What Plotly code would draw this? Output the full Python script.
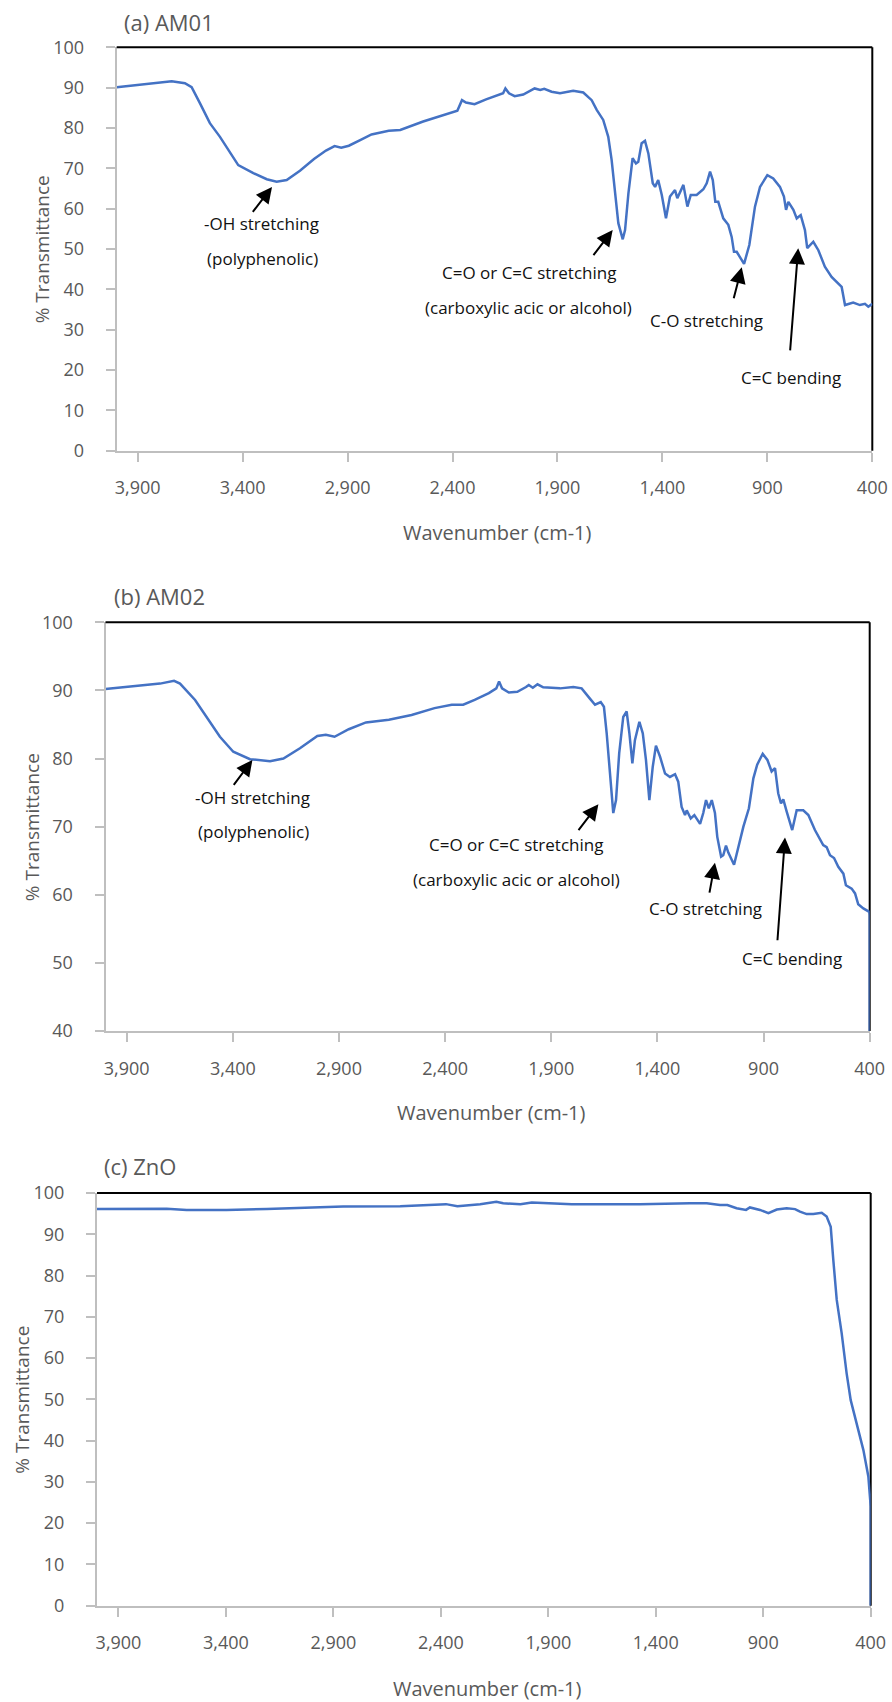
import plotly.graph_objects as go

# ---------------- data ----------------
wn_am01 = [4000, 3857, 3778, 3738, 3675, 3643, 3603, 3556, 3508, 3460, 3421, 3349, 3285, 3238, 3190,
           3127, 3060, 3003, 2962, 2930, 2894, 2840, 2786, 2704, 2649, 2540, 2404, 2377, 2355, 2336,
           2295, 2240, 2159, 2148, 2131, 2104, 2063, 2009, 1982, 1963, 1928, 1888, 1825, 1777, 1737,
           1713, 1682, 1658, 1642, 1626, 1610, 1589, 1578, 1562, 1542, 1526, 1515, 1499, 1483, 1467,
           1446, 1435, 1420, 1403, 1383, 1364, 1340, 1329, 1300, 1281, 1265, 1237, 1205, 1189, 1173,
           1160, 1148, 1134, 1110, 1086, 1070, 1059, 1046, 1011, 986, 959, 935, 900, 872, 840, 821,
           811, 800, 776, 760, 741, 721, 710, 697, 681, 657, 626, 594, 570, 546, 530, 491, 459, 435,
           419, 400]
t_am01 = [90.1, 90.9, 91.2, 91.6, 91.1, 90.1, 86.1, 81.2, 77.8, 74.1, 70.8, 68.8, 67.3, 66.7, 67.1,
          69.4, 72.3, 74.4, 75.5, 75.1, 75.6, 77.0, 78.4, 79.3, 79.5, 81.6, 84.0, 84.3, 86.9, 86.3,
          85.9, 87.1, 88.6, 89.8, 88.6, 87.9, 88.3, 89.8, 89.4, 89.7, 89.0, 88.6, 89.2, 88.8, 86.9,
          84.5, 82.0, 77.8, 72.1, 64.6, 56.4, 52.4, 54.7, 63.8, 72.5, 71.2, 71.6, 76.2, 76.8, 73.7,
          66.3, 65.4, 67.1, 63.4, 57.6, 63.0, 64.6, 62.6, 65.9, 60.5, 63.4, 63.4, 64.8, 66.3, 69.2,
          67.1, 61.7, 61.7, 57.6, 56.0, 53.0, 49.3, 49.3, 46.3, 51.0, 60.5, 65.4, 68.3, 67.5, 65.4, 63.0,
          59.7, 61.7, 59.7, 57.6, 58.4, 54.7, 50.2, 51.0, 51.8, 49.7, 45.6, 43.1, 41.9, 40.6, 36.1, 36.7,
          36.1, 36.4, 35.7, 36.4]

wn_am02 = [4000, 3837, 3743, 3677, 3649, 3578, 3523, 3461, 3398, 3319, 3225, 3162, 3084, 3002, 2962,
           2921, 2854, 2773, 2665, 2558, 2450, 2369, 2315, 2261, 2194, 2159, 2146, 2132, 2100, 2060,
           2019, 2006, 1987, 1965, 1938, 1859, 1796, 1757, 1718, 1694, 1667, 1652, 1639, 1623, 1608,
           1595, 1580, 1561, 1545, 1532, 1518, 1506, 1485, 1469, 1454, 1438, 1422, 1407, 1388, 1364,
           1341, 1317, 1302, 1286, 1270, 1262, 1243, 1226, 1199, 1184, 1171, 1158, 1144, 1129, 1118,
           1100, 1090, 1077, 1066, 1039, 1019, 995, 969, 948, 930, 904, 882, 862, 846, 831, 818, 807,
           791, 765, 744, 713, 689, 658, 619, 603, 587, 568, 548, 524, 512, 485, 469, 454, 430, 402,
           400, 400]
t_am02 = [90.2, 90.65, 91.0, 91.4, 91.0, 88.6, 86.1, 83.2, 81.0, 79.9, 79.6, 80.0, 81.5, 83.3, 83.5,
          83.2, 84.3, 85.3, 85.7, 86.4, 87.4, 87.9, 87.9, 88.6, 89.6, 90.3, 91.3, 90.3, 89.7, 89.8,
          90.5, 90.8, 90.4, 90.9, 90.45, 90.3, 90.5, 90.3, 88.8, 87.9, 88.3, 87.6, 83.7, 77.3, 72.0,
          73.9, 80.8, 86.1, 86.9, 83.7, 79.3, 82.7, 85.4, 83.7, 79.8, 73.9, 78.8, 81.9, 80.3, 77.8,
          77.3, 77.7, 76.6, 72.9, 71.7, 72.4, 71.2, 71.7, 70.4, 72.0, 73.9, 72.7, 73.9, 72.0, 68.5,
          65.6, 65.8, 67.2, 66.2, 64.4, 67.1, 70.0, 72.7, 77.1, 79.1, 80.7, 79.8, 78.1, 78.6, 74.9, 73.4, 74.0,
          72.2, 69.5, 72.4, 72.4, 71.7, 69.5, 67.3, 67.0, 65.8, 65.4, 64.1, 63.1, 61.4, 60.9, 60.2, 58.6, 58.0, 57.5,
          57.0, 0.0]

wn_zno = [4000, 3862, 3676, 3583, 3474, 3397, 3210, 3055, 2855, 2589, 2376, 2323, 2217, 2142, 2110,
          2030, 1977, 1924, 1791, 1525, 1473, 1241, 1163, 1101, 1067, 1024, 980, 962, 915, 876, 837,
          791, 752, 729, 698, 667, 628, 605, 586, 574, 558, 535, 512, 493, 465, 434, 411, 400, 400]
t_zno = [96.1, 96.2, 96.2, 95.9, 95.8, 95.9, 96.1, 96.4, 96.7, 96.8, 97.3, 96.8, 97.3, 97.9, 97.5,
         97.3, 97.7, 97.6, 97.3, 97.3, 97.3, 97.5, 97.5, 97.1, 97.1, 96.3, 95.9, 96.5, 95.9, 95.1, 96.0,
         96.3, 96.1, 95.5, 94.9, 94.9, 95.2, 94.3, 91.8, 83.8, 74.1, 66.0, 56.3, 49.8, 44.2, 37.7, 31.3,
         24.0, 0.0]

x_tick_vals = [3900, 3400, 2900, 2400, 1900, 1400, 900, 400]
panel_titles = ["(a) AM01", "(b) AM02", "(c) ZnO"]
y_ranges = [[0, 100], [40, 100], [0, 100]]
x_title = "Wavenumber (cm-1)"
y_title = "% Transmittance"

# ---------------- layout constants ----------------
W, H = 892, 1702
FONT = "Open Sans"
GRAY = "#595959"
AXGRAY = "#BFBFBF"
BLUE = "#4472C4"

# plot area pixel boxes: left, right, top, bottom
boxes = [(116.7, 872.3, 47.3, 450.7), (105.5, 869.7, 622.3, 1031.0), (97.0, 870.7, 1193.0, 1605.7)]
title_pos = [(121.7, 22.0), (111.7, 596.0), (101.8, 1166.0)]
ytitle_pos = [(42.3, 249.0), (31.7, 827.5), (21.7, 1400.0)]
xtitle_pos = [(497.5, 532.0), (491.0, 1112.0), (487.4, 1688.0)]

def px(x):
    return x / W

def py(y):
    return 1 - y / H

fig = go.Figure()
series = [(wn_am01, t_am01), (wn_am02, t_am02), (wn_zno, t_zno)]
for i, (xs, ys) in enumerate(series):
    sfx = "" if i == 0 else str(i + 1)
    fig.add_trace(go.Scatter(x=xs, y=ys, mode="lines", line=dict(color=BLUE, width=2.5),
                             xaxis="x" + sfx, yaxis="y" + sfx, showlegend=False, hoverinfo="skip"))

layout = dict(width=W, height=H, margin=dict(l=0, r=0, t=0, b=0),
              paper_bgcolor="white", plot_bgcolor="white", showlegend=False,
              font=dict(family=FONT, color=GRAY))
shapes = []
annotations = []
for i, (l, r, t, b) in enumerate(boxes):
    sfx = "" if i == 0 else str(i + 1)
    layout["xaxis" + sfx] = dict(
        domain=[px(l), px(r)], anchor="y" + sfx, range=[4000, 400], automargin=False,
        tickvals=x_tick_vals, tickformat=",d", ticks="outside", ticklen=9, tickwidth=2,
        tickcolor=AXGRAY, showline=True, linecolor=AXGRAY, linewidth=2, showgrid=False,
        zeroline=False, tickfont=dict(family=FONT, size=18, color=GRAY), ticklabelstandoff=11)
    layout["yaxis" + sfx] = dict(
        domain=[py(b), py(t)], anchor="x" + sfx, range=y_ranges[i], dtick=10, automargin=False,
        ticks="outside", ticklen=9, tickwidth=2, tickcolor=AXGRAY, showline=True,
        linecolor=AXGRAY, linewidth=2, showgrid=False, zeroline=False,
        tickfont=dict(family=FONT, size=18, color=GRAY), ticklabelstandoff=18)
    xr, yr = "x" + sfx, "y" + sfx
    shapes.append(dict(type="line", xref=xr + " domain", yref=yr + " domain", x0=0, x1=1, y0=1, y1=1,
                       line=dict(color="black", width=2), layer="above"))
    shapes.append(dict(type="line", xref=xr + " domain", yref=yr + " domain", x0=1, x1=1, y0=0, y1=1,
                       line=dict(color="black", width=2), layer="below"))
    tx, ty = title_pos[i]
    annotations.append(dict(text=panel_titles[i], xref="paper", yref="paper", x=px(tx), y=py(ty),
                            xanchor="left", yanchor="middle", showarrow=False,
                            font=dict(family=FONT, size=22, color=GRAY)))
    yx, yy = ytitle_pos[i]
    annotations.append(dict(text=y_title, xref="paper", yref="paper", x=px(yx), y=py(yy),
                            xanchor="center", yanchor="middle", textangle=-90, showarrow=False,
                            font=dict(family=FONT, size=19, color=GRAY)))
    xx, xy = xtitle_pos[i]
    annotations.append(dict(text=x_title, xref="paper", yref="paper", x=px(xx), y=py(xy),
                            xanchor="center", yanchor="middle", showarrow=False,
                            font=dict(family=FONT, size=20, color=GRAY)))

# peak labels (data coordinates): panel, text, x, y
labels = [
    (0, "-OH stretching", 3310, 56.2), (0, "(polyphenolic)", 3303, 47.7),
    (0, "C=O or C=C stretching", 2036, 44.2), (0, "(carboxylic acic or alcohol)", 2036, 35.55),
    (0, "C-O stretching", 1188, 32.4), (0, "C=C bending", 785, 18.2),
    (1, "-OH stretching", 3308, 74.3), (1, "(polyphenolic)", 3305, 69.26),
    (1, "C=O or C=C stretching", 2065, 67.45), (1, "(carboxylic acic or alcohol)", 2065, 62.3),
    (1, "C-O stretching", 1172, 58.0), (1, "C=C bending", 764, 50.7),
]
# arrows: panel, head(x, y), tail(x, y)
arrows = [
    (0, 3260, 65.4, 3357, 58.85), (0, 1637, 54.7, 1734, 48.1),
    (0, 1022, 45.5, 1062, 37.4), (0, 753, 50.2, 792, 24.5),
    (1, 3308, 79.8, 3401, 75.9), (1, 1678, 73.3, 1777, 69.26),
    (1, 1129, 64.7, 1156, 60.1), (1, 799, 68.4, 835, 53.1),
]
for p, txt, x, y in labels:
    sfx = "" if p == 0 else str(p + 1)
    annotations.append(dict(text=txt, xref="x" + sfx, yref="y" + sfx, x=x, y=y, showarrow=False,
                            xanchor="center", yanchor="middle",
                            font=dict(family=FONT, size=17, color="#111111")))
for p, hx, hy, tx, ty in arrows:
    sfx = "" if p == 0 else str(p + 1)
    annotations.append(dict(text="", xref="x" + sfx, yref="y" + sfx, x=hx, y=hy,
                            axref="x" + sfx, ayref="y" + sfx, ax=tx, ay=ty, showarrow=True,
                            arrowhead=2, arrowsize=1.6, arrowwidth=2, arrowcolor="black", standoff=0))

layout["shapes"] = shapes
layout["annotations"] = annotations
fig.update_layout(**layout)
fig.write_html("out.html")
